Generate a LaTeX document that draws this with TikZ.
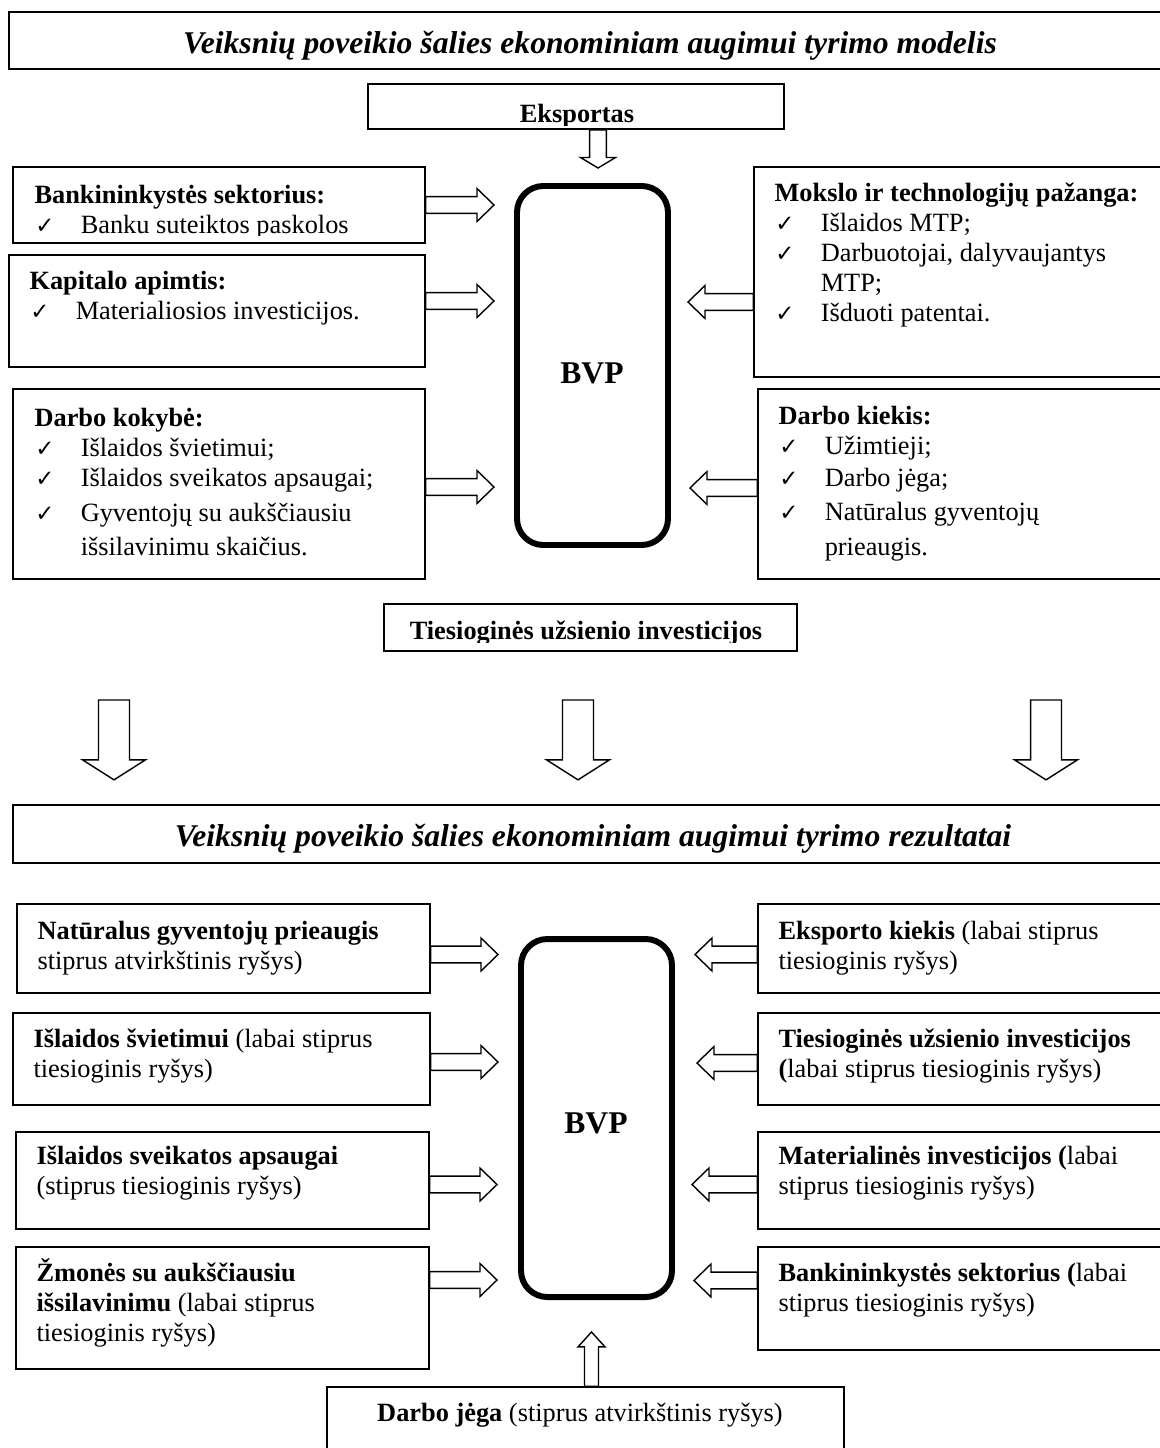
\documentclass[tikz,border=0pt]{standalone}
\usepackage{fontspec}
\setmainfont{Liberation Serif}
\newfontfamily\symfont{DejaVu Sans}
\usetikzlibrary{calc,fit}

\newcommand\chk{\makebox[26.3pt][l]{\hspace{0.5pt}{\symfont\fontsize{13}{13}\selectfont ✓}}}
\newcommand\ind{\hspace*{26.3pt}}
\newcommand\firststrut{\rule{0pt}{14pt}}

% hollow block arrow from #2 to #3, sizes from the style in #1
\newcommand\fatarrow[3][]{%
  \draw[#1] let \p1=#2, \p2=#3,
      \n1={veclen(\x2-\x1,\y2-\y1)}, \n2={(\x2-\x1)/\n1}, \n3={(\y2-\y1)/\n1} in
    ({\x1-(\n3)*\arsh},{\y1+(\n2)*\arsh})
    -- ({\x2-(\n2)*\arhl-(\n3)*\arsh},{\y2-(\n3)*\arhl+(\n2)*\arsh})
    -- ({\x2-(\n2)*\arhl-(\n3)*\arhh},{\y2-(\n3)*\arhl+(\n2)*\arhh})
    -- (\p2)
    -- ({\x2-(\n2)*\arhl+(\n3)*\arhh},{\y2-(\n3)*\arhl-(\n2)*\arhh})
    -- ({\x2-(\n2)*\arhl+(\n3)*\arsh},{\y2-(\n3)*\arhl-(\n2)*\arsh})
    -- ({\x1+(\n3)*\arsh},{\y1-(\n2)*\arsh}) -- cycle;
}

\tikzset{
  arrowsize/.code args={#1/#2/#3}{\def\arsh{#1}\def\arhh{#2}\def\arhl{#3}},
  hollow/.style={draw, line width=0.8pt, line join=miter},
  sidearrow/.style={hollow, arrowsize=4.8pt/9.4pt/9.7pt},
  toparrow/.style={hollow, arrowsize=4.8pt/10pt/6pt},
  bigarrow/.style={hollow, arrowsize=8.8pt/17.9pt/11.4pt},
  uparrow/.style={hollow, arrowsize=4pt/7.7pt/8.5pt},
  box/.style={draw, line width=0.9pt, inner sep=0pt},
  titlebox/.style={box, line width=1.3pt},
  bvpbox/.style={draw, line width=3.4pt, rounded corners=15pt, inner sep=0pt},
  txt/.style={align=left, inner sep=0pt, anchor=north west, font=\fontsize{15}{17}\selectfont},
  btxt/.style={inner sep=0pt, anchor=base, font=\fontsize{15}{17}\selectfont\bfseries},
  heading/.style={inner sep=0pt, anchor=base, font=\fontsize{18}{20}\selectfont\bfseries\itshape},
  bvptext/.style={inner sep=0pt, anchor=base, font=\fontsize{18}{20}\selectfont\bfseries},
}

\begin{document}
\begin{tikzpicture}[x=0.02cm, y=-0.02cm]
\useasboundingbox (0,0) rectangle (1160,1448);

% model
\node[titlebox, fit={(9,12) (1163,69)}] (title1) {};
\node[heading] (title1-t) at (590,53) {Veiksnių poveikio šalies ekonominiam augimui tyrimo modelis};

\node[box, fit={(368,84) (784,129)}] (eksp) {};
\begin{scope}
  \clip (eksp.north west) rectangle ($(eksp.south east)+(0,-4)$);
  \node[btxt] (eksp-t) at (577,122) {Eksportas};
\end{scope}

\node[bvpbox, fit={(517,186) (668,545)}] (bvp1) {};
\node[bvptext] (bvp1-t) at (592,383) {BVP};

\node[box, fit={(13,167) (425,243)}] (bank) {};
\begin{scope}
  \clip (bank.north west) rectangle ($(bank.south east)+(0,-8)$);
  \node[txt] (bank-t) at ($(bank.north west)+(22,12.4)$)
    {\firststrut\textbf{Bankininkystės sektorius:}\\ \chk Banku suteiktos paskolos};
\end{scope}

\node[box, fit={(9,255) (425,367)}] (kap) {};
\node[txt] (kap-t) at ($(kap.north west)+(21,10.4)$)
  {\firststrut\textbf{Kapitalo apimtis:}\\ \chk Materialiosios investicijos.};

\node[box, fit={(13,389) (425,579)}] (kok) {};
\node[txt] (kok-t) at ($(kok.north west)+(22,13.4)$)
  {\firststrut\textbf{Darbo kokybė:}\\ \chk Išlaidos švietimui;\\ \chk Išlaidos sveikatos apsaugai;\\[2.8pt]
   \chk Gyventojų su aukščiausiu\\[2.8pt] \ind išsilavinimu skaičius.};

\node[box, fit={(754,167) (1163,377)}] (mok) {};
\node[txt] (mok-t) at ($(mok.north west)+(21,10.4)$)
  {\firststrut\textbf{Mokslo ir technologijų pažanga:}\\ \chk Išlaidos MTP;\\ \chk Darbuotojai, dalyvaujantys\\
   \ind MTP;\\ \chk Išduoti patentai.};

\node[box, fit={(758,389) (1163,579)}] (kie) {};
\node[txt] (kie-t) at ($(kie.north west)+(21,11.4)$)
  {\firststrut\textbf{Darbo kiekis:}\\ \chk Užimtieji;\\[1pt] \chk Darbo jėga;\\[2.8pt] \chk Natūralus gyventojų\\[2.8pt] \ind prieaugis.};

\node[box, fit={(384,604) (797,651)}] (tui) {};
\begin{scope}
  \clip (tui.north west) rectangle ($(tui.south east)+(0,-9)$);
  \node[btxt] (tui-t) at (586,639) {Tiesioginės užsienio investicijos};
\end{scope}

\fatarrow[toparrow]{($(eksp.south)+(22,0)$)}{($(bvp1.north -| eksp.south)+(22,-15)$)}
\fatarrow[sidearrow]{(bank.east)}{($(bank.east -| bvp1.west)+(-20,0)$)}
\fatarrow[sidearrow]{($(kap.east)+(0,-10)$)}{($(kap.east -| bvp1.west)+(-20,-10)$)}
\fatarrow[sidearrow]{($(kok.east)+(0,3)$)}{($(kok.east -| bvp1.west)+(-20,3)$)}
\fatarrow[sidearrow]{($(mok.west)+(0,30)$)}{($(mok.west -| bvp1.east)+(17,30)$)}
\fatarrow[sidearrow]{($(kie.west)+(0,4)$)}{($(kie.west -| bvp1.east)+(19,4)$)}

% results
\node[titlebox, fit={(13,805) (1163,863)}] (title2) {};
\node[heading] (title2-t) at (593,846) {Veiksnių poveikio šalies ekonominiam augimui tyrimo rezultatai};

\coordinate (mid-l) at (114,700);
\coordinate (mid-c) at (578,700);
\coordinate (mid-r) at (1046,700);
\fatarrow[bigarrow]{(mid-l)}{($(title2.north -| mid-l)+(0,-24)$)}
\fatarrow[bigarrow]{(mid-c)}{($(title2.north -| mid-c)+(0,-24)$)}
\fatarrow[bigarrow]{(mid-r)}{($(title2.north -| mid-r)+(0,-24)$)}

\node[bvpbox, fit={(521,939) (672,1297)}] (bvp2) {};
\node[bvptext] (bvp2-t) at (596,1133) {BVP};

\node[box, fit={(17,904) (430,993)}] (nat) {};
\node[txt] (nat-t) at ($(nat.north west)+(21,11.4)$)
  {\firststrut\textbf{Natūralus gyventojų prieaugis}\\ stiprus atvirkštinis ryšys)};

\node[box, fit={(13,1013) (430,1105)}] (svi) {};
\node[txt] (svi-t) at ($(svi.north west)+(21,10.4)$)
  {\firststrut\textbf{Išlaidos švietimui} (labai stiprus\\ tiesioginis ryšys)};

\node[box, fit={(16,1132) (429,1229)}] (sve) {};
\node[txt] (sve-t) at ($(sve.north west)+(21,8.4)$)
  {\firststrut\textbf{Išlaidos sveikatos apsaugai}\\ (stiprus tiesioginis ryšys)};

\node[box, fit={(16,1247) (429,1369)}] (zmo) {};
\node[txt] (zmo-t) at ($(zmo.north west)+(21,10.4)$)
  {\firststrut\textbf{Žmonės su aukščiausiu}\\ \textbf{išsilavinimu} (labai stiprus\\ tiesioginis ryšys)};

\node[box, fit={(758,904) (1163,993)}] (eks2) {};
\node[txt] (eks2-t) at ($(eks2.north west)+(21,11.4)$)
  {\firststrut\textbf{Eksporto kiekis} (labai stiprus\\ tiesioginis ryšys)};

\node[box, fit={(758,1013) (1163,1105)}] (tui2) {};
\node[txt] (tui2-t) at ($(tui2.north west)+(21,10.4)$)
  {\firststrut\textbf{Tiesioginės užsienio investicijos}\\ \textbf{(}labai stiprus tiesioginis ryšys)};

\node[box, fit={(758,1132) (1163,1229)}] (mat) {};
\node[txt] (mat-t) at ($(mat.north west)+(21,8.4)$)
  {\firststrut\textbf{Materialinės investicijos (}labai\\ stiprus tiesioginis ryšys)};

\node[box, fit={(758,1247) (1163,1350)}] (bnk2) {};
\node[txt] (bnk2-t) at ($(bnk2.north west)+(21,10.4)$)
  {\firststrut\textbf{Bankininkystės sektorius (}labai\\ stiprus tiesioginis ryšys)};

\node[box, fit={(327,1387) (844,1452)}] (dj) {};
\node[btxt] (dj-t) at (580,1421) {Darbo jėga \normalfont(stiprus atvirkštinis ryšys)};

\fatarrow[sidearrow]{($(nat.east)+(0,6)$)}{($(nat.east -| bvp2.west)+(-20,6)$)}
\fatarrow[sidearrow]{($(svi.east)+(0,3)$)}{($(svi.east -| bvp2.west)+(-20,3)$)}
\fatarrow[sidearrow]{($(sve.east)+(0,4)$)}{($(sve.east -| bvp2.west)+(-21,4)$)}
\fatarrow[sidearrow]{($(zmo.east)+(0,-28)$)}{($(zmo.east -| bvp2.west)+(-21,-28)$)}
\fatarrow[sidearrow]{($(eks2.west)+(0,6)$)}{($(eks2.west -| bvp2.east)+(20,6)$)}
\fatarrow[sidearrow]{($(tui2.west)+(0,4)$)}{($(tui2.west -| bvp2.east)+(22,4)$)}
\fatarrow[sidearrow]{($(mat.west)+(0,4)$)}{($(mat.west -| bvp2.east)+(17,4)$)}
\fatarrow[sidearrow]{($(bnk2.west)+(0,-18)$)}{($(bnk2.west -| bvp2.east)+(19,-18)$)}
\fatarrow[uparrow]{($(dj.north)+(6,0)$)}{($(bvp2.south -| dj.north)+(6,32)$)}
\end{tikzpicture}
\end{document}
